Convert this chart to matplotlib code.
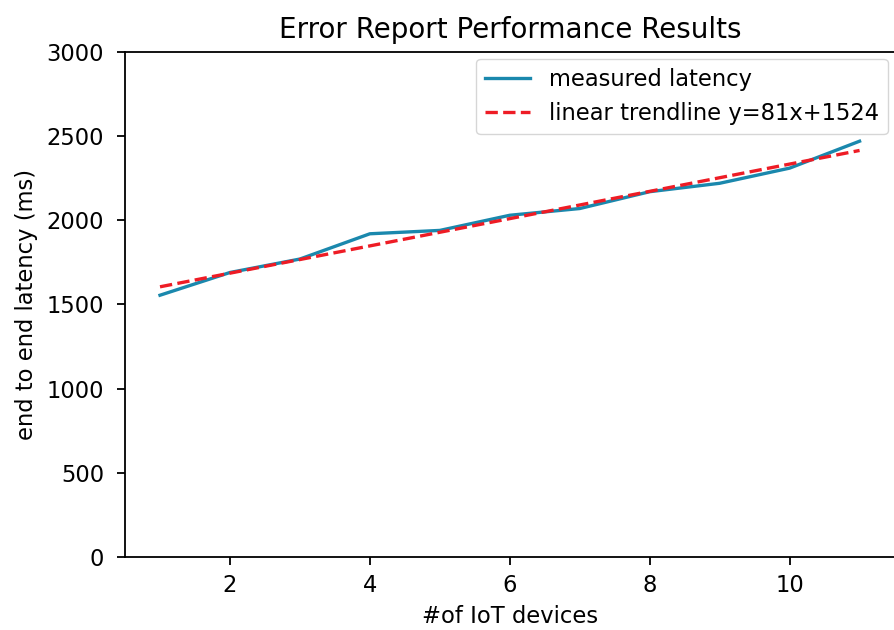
import numpy as np
from matplotlib import pyplot as plt

# number of IoT devices and measured end-to-end latency (ms)
devices = [1, 2, 3, 4, 5, 6, 7, 8, 9, 10, 11]
latency = [1555, 1690, 1770, 1920, 1940, 2030, 2070, 2170, 2220, 2310, 2470]

# trendline coefficients as written in the legend
slope = 81
intercept = 1524

plt.rcParams['font.family'] = 'DejaVu Sans'
fs = 16.3

fig = plt.figure(figsize=(8.95, 6.3), dpi=100)
ax = fig.add_axes([0.1397, 0.1159, 0.8598, 0.8016])

x = np.array(devices)
ax.plot(x, latency, color='#1a88ad', linewidth=2.4, label='measured latency')
ax.plot(x, slope * x + intercept, '--', color='#ee1c25', linewidth=2.4,
        label=f'linear trendline y={slope}x+{intercept}')

ax.set_ylim(0, 3000)
ax.set_xlim(0.5, 11.5)
ax.set_xticks([2, 4, 6, 8, 10])
ax.set_yticks(np.arange(0, 3001, 500))
ax.tick_params(labelsize=fs, width=1.3, length=6, pad=6)
ax.tick_params(axis='y', pad=9)
for s in ax.spines.values():
    s.set_linewidth(1.3)

ax.set_title('Error Report Performance Results', fontsize=20, pad=10)
ax.set_xlabel('#of IoT devices', fontsize=fs, labelpad=6)
ax.set_ylabel('end to end latency (ms)', fontsize=fs, labelpad=6)
ax.legend(loc='upper right', fontsize=fs, borderaxespad=0.3)

plt.savefig('out.png', dpi=100)
plt.close()
